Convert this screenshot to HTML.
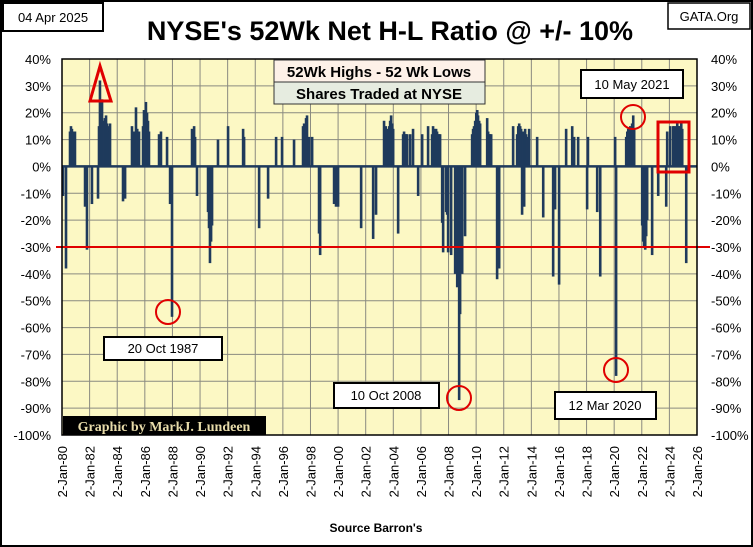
<!DOCTYPE html>
<html><head><meta charset="utf-8"><style>
body{margin:0;background:#fff}
svg{display:block}
text{font-family:"Liberation Sans","DejaVu Sans",sans-serif}
</style></head><body>
<svg id="chart" width="753" height="547" viewBox="0 0 753 547">
<rect x="1" y="1" width="751" height="545" fill="#fff" stroke="#000" stroke-width="2"/>
<rect x="62" y="59" width="635" height="376" fill="#fcf8c4"/>
<g id="grid"></g>
<g id="bars"></g>
<line x1="0" x2="0" y1="0" y2="0" id="zeroLine" stroke="#1f3a5c" stroke-width="2.5"/>
<line id="redLine" stroke="#e00000" stroke-width="2"/>
<rect x="62" y="59" width="635" height="376" fill="none" stroke="#000" stroke-width="1.5"/>
<g id="axes"></g>

<rect x="3" y="3" width="100" height="28" fill="#fff" stroke="#000" stroke-width="2"/>
<text x="53" y="22" font-size="13" text-anchor="middle">04 Apr 2025</text>
<rect x="668" y="3" width="82" height="26" fill="#fff" stroke="#000" stroke-width="1.5"/>
<text x="709" y="21" font-size="13" text-anchor="middle">GATA.Org</text>
<text x="390" y="40" font-size="27" font-weight="bold" text-anchor="middle">NYSE's 52Wk Net H-L Ratio @ +/- 10%</text>

<rect x="274" y="60" width="211" height="22" fill="#fdf1e8" stroke="#333" stroke-width="1"/>
<text x="379" y="77" font-size="15" font-weight="bold" text-anchor="middle">52Wk Highs - 52 Wk Lows</text>
<rect x="274" y="82" width="211" height="22" fill="#e6ece0" stroke="#333" stroke-width="1"/>
<text x="379" y="99" font-size="15" font-weight="bold" text-anchor="middle">Shares Traded at NYSE</text>

<g fill="none" stroke="#e00000" stroke-width="3">
<polygon points="100,66 90,101 111,101"/>
<circle cx="168" cy="312" r="12" stroke-width="2"/>
<circle cx="459" cy="398" r="12" stroke-width="2"/>
<circle cx="616" cy="370" r="12" stroke-width="2"/>
<circle cx="633" cy="117" r="12" stroke-width="2"/>
<rect x="658" y="122" width="31" height="50"/>
</g>

<rect x="581" y="70" width="102" height="28" fill="#fff" stroke="#000" stroke-width="2"/>
<text x="632" y="89" font-size="13" text-anchor="middle">10 May 2021</text>
<rect x="104" y="337" width="118" height="23" fill="#fff" stroke="#000" stroke-width="2"/>
<text x="163" y="353" font-size="13" text-anchor="middle">20 Oct 1987</text>
<rect x="334" y="383" width="105" height="25" fill="#fff" stroke="#000" stroke-width="2"/>
<text x="386" y="400" font-size="13" text-anchor="middle">10 Oct 2008</text>
<rect x="555" y="392" width="101" height="27" fill="#fff" stroke="#000" stroke-width="2"/>
<text x="605" y="410" font-size="13" text-anchor="middle">12 Mar 2020</text>
<rect x="63" y="416" width="203" height="19" fill="#000"/>
<text x="164" y="431" font-size="14" font-weight="bold" fill="#e8dcaa" text-anchor="middle" style="font-family:'Liberation Serif',serif">Graphic by MarkJ. Lundeen</text>
<text x="376" y="532" font-size="12" font-weight="bold" text-anchor="middle">Source Barron's</text>
</svg>
<script>
const yTicks=[40,30,20,10,0,-10,-20,-30,-40,-50,-60,-70,-80,-90,-100];
const xTickYears=[1980,1982,1984,1986,1988,1990,1992,1994,1996,1998,2000,2002,2004,2006,2008,2010,2012,2014,2016,2018,2020,2022,2024,2026];
const xTickLabels=["2-Jan-80","2-Jan-82","2-Jan-84","2-Jan-86","2-Jan-88","2-Jan-90","2-Jan-92","2-Jan-94","2-Jan-96","2-Jan-98","2-Jan-00","2-Jan-02","2-Jan-04","2-Jan-06","2-Jan-08","2-Jan-10","2-Jan-12","2-Jan-14","2-Jan-16","2-Jan-18","2-Jan-20","2-Jan-22","2-Jan-24","2-Jan-26"];
const threshold=-30;
const dates=[
1980.07,1980.29,1980.58,1980.65,1980.72,1980.8,1980.94,1981.67,1981.81,1982.17,1982.61,1982.68,1982.75,1982.82,1982.9,1982.97,1983.04,1983.11,1983.19,1983.26,1983.33,1983.4,1983.48,1984.42,1984.57,
1985.07,1985.22,1985.36,1985.45,1985.58,1985.87,1985.94,1986.01,1986.08,1986.16,1986.23,1986.3,1987.03,1987.17,1987.61,1987.83,1987.97,1989.42,1989.57,1989.64,1989.78,
1990.58,1990.65,1990.72,1990.8,1990.87,1991.3,1992.03,1993.12,1993.19,1994.28,1994.93,1995.51,1995.94,1996.81,1997.46,1997.54,1997.61,1997.68,1997.75,1997.9,1998.12,1998.62,1998.7,1999.71,1999.85,2000,2001.67,2002.54,2002.75,
2003.33,2003.45,2003.55,2003.62,2003.7,2003.77,2003.84,2003.92,2003.99,2004.35,2004.71,2004.78,2004.86,2004.93,2005.0,2005.22,2005.43,2005.8,
2006.09,2006.52,2006.81,2006.88,2006.96,2007.03,2007.1,2007.17,2007.25,2007.32,2007.39,2007.54,2007.61,2007.83,2007.9,2007.97,
2008.19,2008.48,2008.56,2008.63,2008.77,2008.84,2008.92,2008.99,2009.2,
2009.71,2009.78,2009.85,2009.93,2010.01,2010.08,2010.14,2010.22,2010.29,2010.8,2010.87,2010.94,2011.01,2011.09,2011.52,2011.67,
2012.68,2012.97,2013.05,2013.12,2013.19,2013.26,2013.33,2013.41,2013.48,2013.55,2013.62,2013.7,2013.84,
2014.42,2014.86,2015.58,2015.72,2016.01,2016.52,2016.96,2017.1,2017.39,2018.04,2018.1,2018.77,2018.99,
2020.07,2020.14,2020.87,2020.95,2021.02,2021.09,2021.17,2021.23,2021.3,2021.38,2021.45,
2022.03,2022.1,2022.17,2022.25,2022.32,2022.39,2022.75,2023.19,2023.77,
2023.84,2024.06,2024.28,2024.35,2024.43,2024.5,2024.57,2024.64,2024.71,2024.78,2024.86,2024.93,2025.22];
const values=[
-11,-38,13,15,14,13,13,-15,-31,-14,-12,15,32,20,25,15,17,18,19,16,15,13,16,-13,-12,
15,13,22,14,13,15,21,17,24,20,17,13,12,13,11,-14,-56,14,15,11,-11,
-17,-23,-36,-28,-22,10,15,14,11,-23,-12,11,11,10,15,16,14,18,19,11,11,-25,-33,-14,-15,-15,-23,-27,-18,
17,15,14,13,15,17,19,16,14,-25,12,13,12,12,12,12,14,-11,
12,15,12,15,14,13,14,13,12,12,12,-21,-32,-17,-18,-32,
-33,-40,-30,-45,-87,-55,-38,-40,-26,
12,14,15,17,20,21,19,17,16,18,13,12,12,12,-42,-38,
15,12,15,16,15,14,-18,13,-15,14,12,11,14,
11,-19,-41,-16,-44,14,15,11,11,-16,11,-17,-41,
11,-78,11,13,14,14,15,13,16,19,14,
-22,-28,-30,-31,-26,-20,-33,-11,-15,
13,15,15,15,13,15,16,15,15,15,16,14,-36];

const NS="http://www.w3.org/2000/svg";
const X0=62,X1=697,Y0=59,Y1=435;
function xScale(yr){return X0+(yr-1980)/(2026-1980)*(X1-X0);}
function yScale(v){return Y0+(40-v)/(140)*(Y1-Y0);}
function mk(tag,attrs,parent){const e=document.createElementNS(NS,tag);for(const k in attrs)e.setAttribute(k,attrs[k]);parent.appendChild(e);return e;}
const grid=document.getElementById('grid'),axes=document.getElementById('axes'),bars=document.getElementById('bars');
yTicks.forEach(t=>{
  const y=yScale(t);
  const g=mk('line',{x1:X0,x2:X1,y1:y,y2:y,stroke:'#8a8a80','stroke-width':1},grid);
  
  
  const l=mk('text',{x:51,y:y+5,'font-size':13,'text-anchor':'end'},axes);l.textContent=t+'%';
  
  
  const r=mk('text',{x:711,y:y+5,'font-size':13,'text-anchor':'start'},axes);r.textContent=t+'%';
  
  
});
xTickYears.forEach((yr,i)=>{
  const x=xScale(yr);
  const g=mk('line',{x1:x,x2:x,y1:Y0,y2:Y1,stroke:'#8a8a80','stroke-width':1},grid);
  
  
  const t=mk('text',{x:0,y:0,'font-size':13,'text-anchor':'end',transform:`translate(${x+5},446) rotate(-90)`},axes);
  t.textContent=xTickLabels[i];
  
  
});
const y0=yScale(0);
dates.forEach((d,i)=>{
  const v=values[i],x=xScale(d),y=yScale(v);
  const b=mk('rect',{x:x-1.3,y:Math.min(y,y0),width:2.6,height:Math.abs(y-y0),fill:'#1f3a5c'},bars);
  
  
});
const z=document.getElementById('zeroLine');
z.setAttribute('x1',X0);z.setAttribute('x2',X1);z.setAttribute('y1',y0);z.setAttribute('y2',y0);
const rl=document.getElementById('redLine'),ry=yScale(threshold);
rl.setAttribute('x1',X0-6);rl.setAttribute('x2',710);rl.setAttribute('y1',ry);rl.setAttribute('y2',ry);
</script>
</body></html>
